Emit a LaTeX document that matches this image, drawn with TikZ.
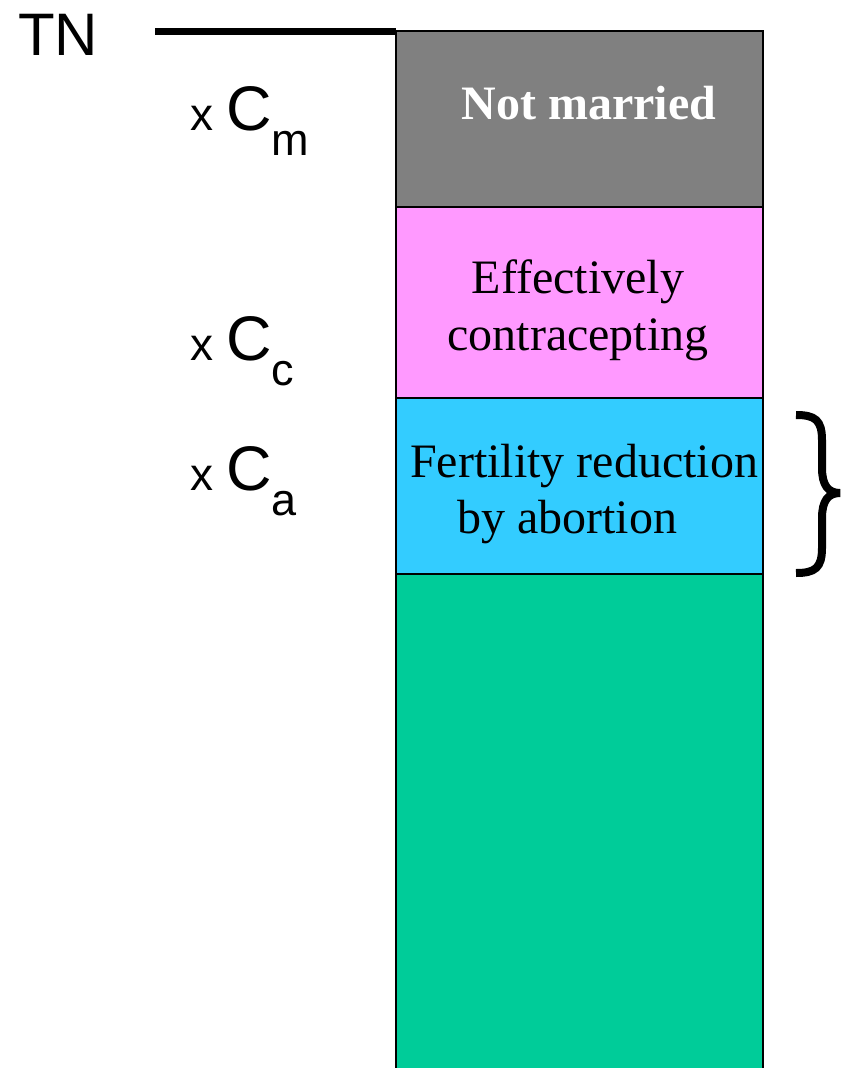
\documentclass[tikz,border=0pt]{standalone}
\usepackage{fontspec}
\setmainfont{Liberation Serif}
\newfontfamily\arialf{Liberation Sans}
\definecolor{cgray}{HTML}{808080}
\definecolor{cpink}{HTML}{FF99FF}
\definecolor{cblue}{HTML}{33CCFF}
\definecolor{cgreen}{HTML}{00CC99}
\tikzset{
  band/.style={draw=black, line width=2.5pt},
  boxtext/.style={inner sep=0pt, anchor=base, font=\fontsize{48}{57}\selectfont},
  coef/.style={inner sep=0pt, anchor=base west},
}
\newcommand{\coefl}[1]{{\arialf\fontsize{46}{50}\selectfont x}\hspace{13pt}{\arialf\fontsize{63}{70}\selectfont C}\raisebox{-25pt}{\arialf\fontsize{45}{50}\selectfont #1}}
\begin{document}
\begin{tikzpicture}[x=1pt,y=-1pt]
\useasboundingbox (0,0) rectangle (841,1068);
\clip (0,0) rectangle (841,1068);
% bands
\draw[band, fill=cgreen] (396,574) rectangle (763,1080);
\draw[band, fill=cblue] (396,398) rectangle (763,574);
\draw[band, fill=cpink] (396,207) rectangle (763,398);
\draw[band, fill=cgray] (396,31) rectangle (763,207);
\coordinate (bartop) at (396,31);
\coordinate (tnend) at (155,31);
\draw[line width=7pt] (tnend) -- (bartop);
% texts in bands
\node[boxtext, text=white, font=\fontsize{48}{57}\selectfont\bfseries] (nm) at (589,119) {Not married};
\node[boxtext] (ec1) at (578,293) {Effectively};
\node[boxtext] (ec2) at (578,350) {contracepting};
\node[boxtext] (fr1) at (584,477) {Fertility reduction};
\node[boxtext] (fr2) at (567,533) {by abortion};
% labels
\node[coef] (tn) at (18,55) {\arialf\fontsize{60}{64}\selectfont TN};
\node[coef] (cm) at (190,130) {\coefl{m}};
\node[coef] (cc) at (190,360) {\coefl{c}};
\node[coef] (ca) at (190,490) {\coefl{a}};
% brace
\coordinate (btop) at (796,415);
\coordinate (btip) at (840,493);
\coordinate (bbot) at (796,573);
\draw[line width=8pt] (btop) .. controls (815,415) and (822,420) .. (822,440)
  -- (822,468) .. controls (822,485) and (828,493) .. (btip)
  .. controls (828,493) and (822,501) .. (822,518)
  -- (822,548) .. controls (822,568) and (815,573) .. (bbot);
\end{tikzpicture}
\end{document}
